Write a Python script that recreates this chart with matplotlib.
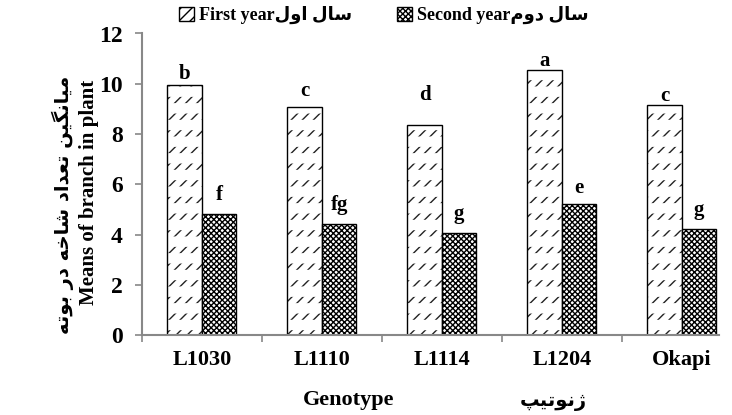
import matplotlib
matplotlib.use("Agg")
import matplotlib.pyplot as plt
import numpy as np

# ---- data ----
genotypes = ["L1030", "L1110", "L1114", "L1204", "Okapi"]
first_year = [9.95, 9.06, 8.35, 10.55, 9.15]
second_year = [4.82, 4.43, 4.06, 5.22, 4.23]
first_letters = ["b", "c", "d", "a", "c"]
second_letters = ["f", "fg", "g", "e", "g"]
y_ticks = [0, 2, 4, 6, 8, 10, 12]

# Persian strings written in visual (left-to-right) order with presentation forms
fa_first = "\uFEDD\uFEED\uFE8D \uFEDD\uFE8E\uFEB3"            # سال اول
fa_second = "\uFEE1\uFEED\uFEA9 \uFEDD\uFE8E\uFEB3"           # سال دوم
fa_ylabel = ("\uFEEA\uFE97\uFEEE\uFE91 \uFEAD\uFEA9 \uFEEA\uFEA7\uFE8E\uFEB7 "
             "\uFEA9\uFE8D\uFEAA\uFECC\uFE97 \uFEE6\uFBFF\uFB95\uFEE7\uFE8E\uFBFF\uFEE3")  # میانگین تعداد شاخه در بوته
fa_xlabel = "\uFB57\uFBFF\uFE97\uFEEE\uFEE7\uFB8A"            # ژنوتیپ

plt.rcParams['font.family'] = ['Liberation Serif', 'DejaVu Sans']
plt.rcParams['font.weight'] = 'bold'
plt.rcParams['hatch.linewidth'] = 1.0

fig = plt.figure(figsize=(7.32, 4.15), dpi=100)
ax = fig.add_axes([142/732, 1-335/415, (719-142)/732, (335-33.5)/415])

x = np.arange(len(genotypes))
w = 0.2875


def set_hlw(container, lw):
    for p in container:
        if hasattr(p, 'set_hatch_linewidth'):
            p.set_hatch_linewidth(lw)


# first year: dashed diagonal pattern (diagonals broken by white horizontal bands)
ax.bar(x - w/2, first_year, w, facecolor='white', edgecolor='#222222', hatch='///', linewidth=0)
bands = ax.bar(x - w/2, first_year, w, facecolor='none', edgecolor='white', hatch='-', linewidth=0)
set_hlw(bands, 7.5)
b1 = ax.bar(x - w/2, first_year, w, facecolor='none', edgecolor='black', linewidth=1.0,
            label="First year" + fa_first)
# second year: dense checker
b2 = ax.bar(x + w/2, second_year, w, facecolor='white', edgecolor='black',
            hatch='xxxxxx', linewidth=1.0, label="Second year" + fa_second)

first_pad = [6, 11, 25, 4, 4]
second_pad = [14, 14, 14, 11, 14]
for i in range(len(genotypes)):
    ax.annotate(first_letters[i], (x[i] - w/2, first_year[i]), xytext=(0, first_pad[i] * 0.72),
                textcoords='offset points', ha='center', va='baseline', fontsize=15, fontweight='bold')
    ax.annotate(second_letters[i], (x[i] + w/2, second_year[i]), xytext=(0, second_pad[i] * 0.72),
                textcoords='offset points', ha='center', va='baseline', fontsize=15, fontweight='bold')

ax.set_xlim(-0.5, 4.31)
ax.set_ylim(0, 12)
ax.set_yticks(y_ticks)
ax.set_yticklabels([str(t) for t in y_ticks], fontsize=17, fontweight='bold')
ax.set_xticks(x)
ax.set_xticklabels(genotypes, fontsize=16, fontweight='bold')
ax.tick_params(axis='x', which='major', length=0, pad=11)
ax.set_xticks(np.arange(-0.5, 4.0, 1.0), minor=True)
ax.tick_params(axis='x', which='minor', length=5, width=1.2, color='#888888', direction='out')
ax.tick_params(axis='y', which='major', length=5, width=1.2, color='#888888', direction='out', pad=9)

for s in ['top', 'right']:
    ax.spines[s].set_visible(False)
for s in ['left', 'bottom']:
    ax.spines[s].set_color('#888888')
    ax.spines[s].set_linewidth(1.5)

# axis titles
fig.text(89/732, 1-192/415, "Means of branch in plant", rotation=90, ha='center', va='center',
         fontsize=15, fontweight='bold')
fig.text(63/732, 1-205/415, fa_ylabel, rotation=90, ha='center', va='center',
         fontsize=14, fontweight='bold', family='DejaVu Sans')
fig.text(349/732, 1-400/415, "Genotype", ha='center', va='center', fontsize=16, fontweight='bold')
fig.text(553/732, 1-401/415, fa_xlabel, ha='center', va='center', fontsize=14, fontweight='bold',
         family='DejaVu Sans')

fig.legend(handles=[b1, b2], loc='center', bbox_to_anchor=(384/732, 1-15/415), ncol=2,
           frameon=False, handlelength=0.8, handleheight=0.8, handletextpad=0.3,
           columnspacing=2.5, prop={'weight': 'bold', 'size': 13})
# make legend handles show the hatch patterns
leg = fig.legends[0]
for h, hatch in zip(leg.legend_handles, ['///', 'xxxxxx']):
    h.set_hatch(hatch)

fig.savefig("out.png", dpi=100)
